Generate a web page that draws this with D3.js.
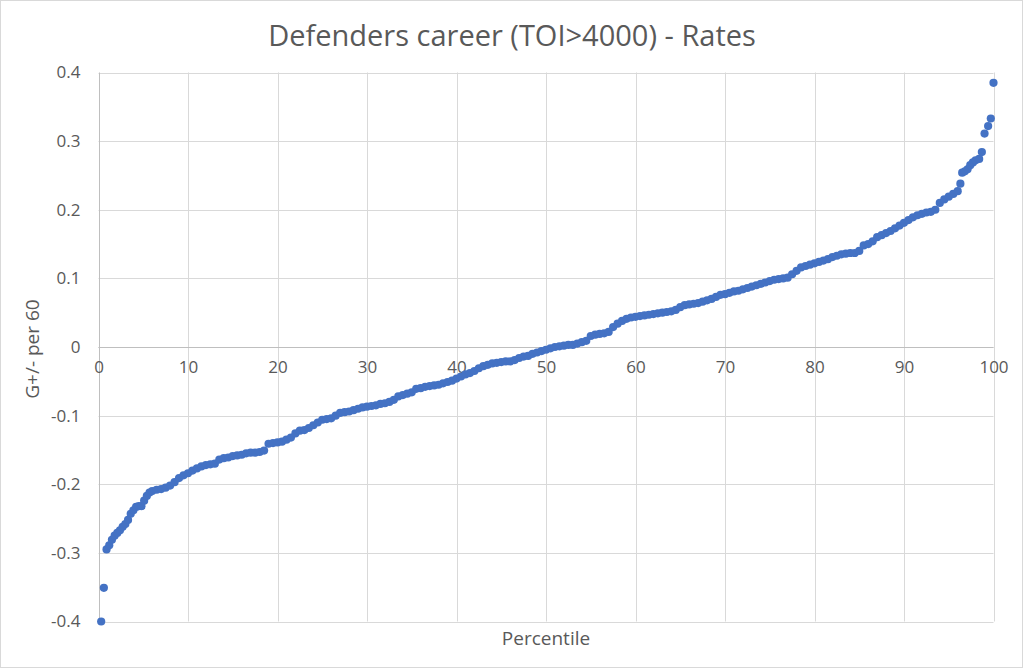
<!DOCTYPE html>
<html>
<head>
<meta charset="utf-8">
<script src="https://cdn.jsdelivr.net/npm/d3@7"></script>
<style>
  html, body { margin: 0; padding: 0; background: #fff; }
  svg { display: block; }
  text { font-family: "Open Sans", "Noto Sans", sans-serif; fill: #595959; }
</style>
</head>
<body>
<svg id="chart" width="1024" height="669"></svg>
<script>
const title = "Defenders career (TOI>4000) - Rates";
const xTitle = "Percentile";
const yTitle = "G+/- per 60";
const xTicks = [0, 10, 20, 30, 40, 50, 60, 70, 80, 90, 100];
const yTicks = [-0.4, -0.3, -0.2, -0.1, 0, 0.1, 0.2, 0.3, 0.4];

const percentile = [
  0.3, 0.6, 0.9, 1.2, 1.5, 1.8, 2.1, 2.4, 2.7, 3.0, 3.3, 3.6, 3.9, 4.2, 4.5, 4.8, 5.1, 5.4, 5.7,
  6.0, 6.5, 7.0, 7.5, 8.0, 8.5, 9.0, 9.5, 10.0, 10.5, 11.0, 11.5, 12.0, 12.5, 13.0, 13.5, 14.0, 14.5,
  15.0, 15.5, 16.0, 16.5, 17.0, 17.5, 18.0, 18.5, 19.0, 19.5, 20.0, 20.5, 21.0, 21.5, 22.0, 22.5,
  23.0, 23.5, 24.0, 24.5, 25.0, 25.5, 26.0, 26.5, 27.0, 27.5, 28.0, 28.5, 29.0, 29.5, 30.0, 30.5,
  31.0, 31.5, 32.0, 32.5, 33.0, 33.5, 34.0, 34.5, 35.0, 35.5, 36.0, 36.5, 37.0, 37.5, 38.0, 38.5,
  39.0, 39.5, 40.0, 40.5, 41.0, 41.5, 42.0, 42.5, 43.0, 43.5, 44.0, 44.5, 45.0, 45.5, 46.0, 46.5,
  47.0, 47.5, 48.0, 48.5, 49.0, 49.5, 50.0, 50.5, 51.0, 51.5, 52.0, 52.5, 53.0, 53.5, 54.0, 54.5,
  55.0, 55.5, 56.0, 56.5, 57.0, 57.5, 58.0, 58.5, 59.0, 59.5, 60.0, 60.5, 61.0, 61.5, 62.0, 62.5,
  63.0, 63.5, 64.0, 64.5, 65.0, 65.5, 66.0, 66.5, 67.0, 67.5, 68.0, 68.5, 69.0, 69.5, 70.0, 70.5,
  71.0, 71.5, 72.0, 72.5, 73.0, 73.5, 74.0, 74.5, 75.0, 75.5, 76.0, 76.5, 77.0, 77.5, 78.0, 78.5,
  79.0, 79.5, 80.0, 80.5, 81.0, 81.5, 82.0, 82.5, 83.0, 83.5, 84.0, 84.5, 85.0, 85.5, 86.0, 86.5,
  87.0, 87.5, 88.0, 88.5, 89.0, 89.5, 90.0, 90.5, 91.0, 91.5, 92.0, 92.5, 93.0, 93.5, 94.0, 94.5,
  95.0, 95.5, 96.0, 96.3, 96.5, 96.8, 97.1, 97.4, 97.7, 98.0, 98.4, 98.7, 99.0, 99.4, 99.7, 100.0
];

const gPlusMinus = [
  -0.400, -0.351, -0.295, -0.289, -0.281, -0.275, -0.271, -0.267, -0.262, -0.258, -0.252, -0.243, -0.238, -0.233, -0.232, -0.232, -0.224, -0.217, -0.212,
  -0.210, -0.208, -0.207, -0.205, -0.202, -0.197, -0.191, -0.187, -0.184, -0.180, -0.177, -0.174, -0.172, -0.171, -0.170, -0.164, -0.162, -0.161,
  -0.159, -0.158, -0.157, -0.155, -0.154, -0.154, -0.153, -0.151, -0.141, -0.140, -0.139, -0.138, -0.135, -0.132, -0.126, -0.122,
  -0.121, -0.118, -0.114, -0.110, -0.106, -0.105, -0.104, -0.100, -0.096, -0.095, -0.094, -0.092, -0.090, -0.088, -0.087, -0.086,
  -0.085, -0.083, -0.082, -0.080, -0.077, -0.072, -0.070, -0.068, -0.066, -0.061, -0.060, -0.058, -0.057, -0.056, -0.055, -0.053,
  -0.051, -0.049, -0.046, -0.043, -0.040, -0.038, -0.035, -0.031, -0.028, -0.026, -0.024, -0.023, -0.022, -0.021, -0.021, -0.019,
  -0.016, -0.014, -0.013, -0.010, -0.008, -0.006, -0.004, -0.002, 0.000, 0.001, 0.002, 0.003, 0.003, 0.005, 0.007, 0.009,
  0.016, 0.018, 0.019, 0.020, 0.022, 0.029, 0.034, 0.038, 0.041, 0.043, 0.044, 0.045, 0.046, 0.047, 0.048, 0.049,
  0.050, 0.051, 0.052, 0.054, 0.058, 0.061, 0.062, 0.063, 0.064, 0.066, 0.068, 0.070, 0.073, 0.076, 0.077, 0.079,
  0.081, 0.082, 0.084, 0.086, 0.088, 0.090, 0.092, 0.094, 0.096, 0.098, 0.099, 0.100, 0.101, 0.106, 0.111, 0.116,
  0.118, 0.120, 0.122, 0.124, 0.126, 0.128, 0.131, 0.133, 0.135, 0.136, 0.137, 0.137, 0.140, 0.148, 0.150, 0.154,
  0.160, 0.163, 0.166, 0.169, 0.173, 0.177, 0.181, 0.185, 0.189, 0.192, 0.194, 0.196, 0.197, 0.200, 0.210, 0.215,
  0.219, 0.223, 0.227, 0.238, 0.254, 0.256, 0.259, 0.265, 0.269, 0.272, 0.274, 0.284, 0.311, 0.322, 0.333, 0.385
];

const points = percentile.map((p, i) => ({ p, v: gPlusMinus[i] }));

const svg = d3.select("#chart");

// outer chart border
svg.append("rect").attr("x", 0.5).attr("y", 0.5).attr("width", 1022).attr("height", 667)
  .attr("fill", "#fff").attr("stroke", "#d9d9d9").attr("stroke-width", 1);

const x = d3.scaleLinear().domain([0, 100]).range([98.5, 993.5]);
const y = d3.scaleLinear().domain([-0.4, 0.4]).range([621.5, 72.5]);

// gridlines
svg.append("g").selectAll("line").data(yTicks).join("line")
  .attr("x1", x(0)).attr("x2", x(100))
  .attr("y1", d => Math.round(y(d)) + 0.5).attr("y2", d => Math.round(y(d)) + 0.5)
  .attr("stroke", "#d9d9d9").attr("stroke-width", 1);
svg.append("g").selectAll("line").data(xTicks.slice(1)).join("line")
  .attr("x1", d => Math.round(x(d)) + 0.5).attr("x2", d => Math.round(x(d)) + 0.5)
  .attr("y1", y(0.4)).attr("y2", y(-0.4))
  .attr("stroke", "#d9d9d9").attr("stroke-width", 1);

// left axis line
svg.append("line").attr("x1", Math.round(x(0)) + 0.5).attr("x2", Math.round(x(0)) + 0.5)
  .attr("y1", y(0.4)).attr("y2", y(-0.4)).attr("stroke", "#bfbfbf");
// x axis line at zero
svg.append("line").attr("x1", x(0)).attr("x2", x(100))
  .attr("y1", Math.round(y(0)) + 0.5).attr("y2", Math.round(y(0)) + 0.5).attr("stroke", "#bfbfbf");

const fmtY = d => d === 0 ? "0" : d3.format(".1f")(d).replace("\u2212", "-");

// y axis via d3
const yAxis = d3.axisLeft(y).tickValues(yTicks).tickSize(0).tickPadding(18).tickFormat(fmtY);
const gy = svg.append("g").attr("transform", `translate(${x(0)},0)`).call(yAxis);
gy.select(".domain").remove();
gy.selectAll("text").style("font-size", "17px").attr("fill", "#595959")
  .style("font-family", '"Open Sans", sans-serif');

// x axis via d3 (at y = 0)
const xAxis = d3.axisBottom(x).tickValues(xTicks).tickSize(0).tickPadding(14).tickFormat(d3.format("d"));
const gx = svg.append("g").attr("transform", `translate(0,${y(0)})`).call(xAxis);
gx.select(".domain").remove();
gx.selectAll("text").style("font-size", "17px").attr("fill", "#595959")
  .style("font-family", '"Open Sans", sans-serif');

// points
svg.append("g").selectAll("circle").data(points).join("circle")
  .attr("cx", d => x(d.p)).attr("cy", d => y(d.v)).attr("r", 4.1)
  .attr("fill", "#4472C4");

// titles
svg.append("text").attr("x", 512).attr("y", 46).attr("text-anchor", "middle")
  .style("font-size", "29px").text(title);
svg.append("text").attr("x", 546).attr("y", 645).attr("text-anchor", "middle")
  .style("font-size", "19px").text(xTitle);
svg.append("text").attr("transform", "translate(39,349) rotate(-90)").attr("text-anchor", "middle")
  .style("font-size", "19px").text(yTitle);
</script>
</body>
</html>
